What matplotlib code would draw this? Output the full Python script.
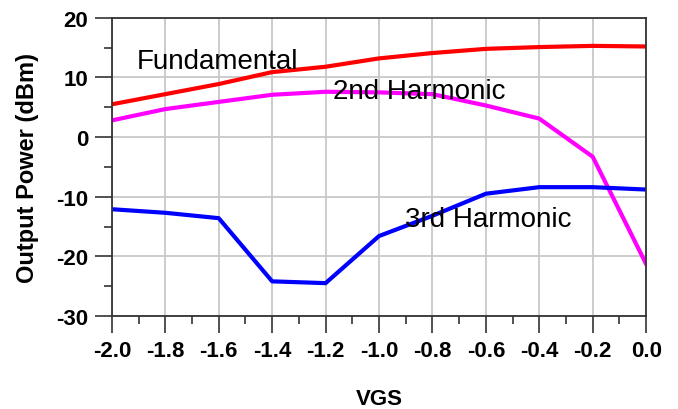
import numpy as np
import matplotlib.pyplot as plt
from matplotlib.ticker import MultipleLocator

plt.rcParams['font.family'] = ['Liberation Sans', 'DejaVu Sans']
plt.rcParams['axes.unicode_minus'] = False

vgs = [-2.0, -1.8, -1.6, -1.4, -1.2, -1.0, -0.8, -0.6, -0.4, -0.2, 0.0]
fundamental = [5.5, 7.2, 8.9, 10.9, 11.8, 13.2, 14.1, 14.8, 15.1, 15.3, 15.2]
harm2 = [2.8, 4.7, 5.9, 7.1, 7.6, 7.5, 7.2, 5.3, 3.1, -3.3, -21.3]
harm3 = [-12.1, -12.7, -13.6, -24.2, -24.5, -16.6, -13.2, -9.5, -8.4, -8.4, -8.8]

fig = plt.figure(figsize=(6.78, 4.10), dpi=100)
ax = fig.add_axes([0.165, 0.227, 0.788, 0.727])

ax.plot(vgs, fundamental, color='#ff0000', lw=3)
ax.plot(vgs, harm2, color='#ff00ff', lw=3)
ax.plot(vgs, harm3, color='#0000ff', lw=3)

ax.set_xlim(-2.0, 0.0)
ax.set_ylim(-30, 20)
ax.xaxis.set_minor_locator(MultipleLocator(0.1))
ax.yaxis.set_major_locator(MultipleLocator(10))
ax.yaxis.set_minor_locator(MultipleLocator(5))
xt = np.round(np.arange(-2.0, 0.01, 0.2), 1)
ax.set_xticks(xt)
ax.set_xticklabels(['%.1f' % abs(v) if v == 0 else '%.1f' % v for v in xt])
ax.grid(True, which='major', color='#c8c8c8', lw=1.3)
ax.set_axisbelow(True)

ax.tick_params(which='major', direction='out', length=12, width=1.2, color='#333333', labelsize=16, pad=5)
ax.tick_params(which='minor', direction='out', length=6, width=1.2, color='#333333')
for lab in ax.get_xticklabels() + ax.get_yticklabels():
    lab.set_fontweight('bold')
for s in ax.spines.values():
    s.set_color('#333333')
    s.set_linewidth(1.3)

ax.set_xlabel('VGS', fontsize=16, fontweight='bold', labelpad=20)
ax.set_ylabel('Output Power (dBm)', fontsize=17, fontweight='bold', labelpad=12)

ax.text(-1.906, 11.6, 'Fundamental', fontsize=20)
ax.text(-1.172, 6.5, '2nd Harmonic', fontsize=20)
ax.text(-0.903, -14.85, '3rd Harmonic', fontsize=20)

fig.savefig('out.png', dpi=100)
